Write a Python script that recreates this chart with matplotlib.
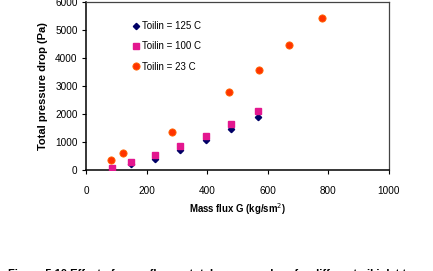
import matplotlib
matplotlib.use("Agg")
import matplotlib.pyplot as plt

plt.rcParams['font.family'] = ['Liberation Sans', 'DejaVu Sans']

g_125 = [87, 148, 227, 310, 396, 478, 569]
dp_125 = [40, 210, 393, 714, 1071, 1475, 1914]
g_100 = [87, 148, 227, 310, 396, 478, 569]
dp_100 = [90, 286, 557, 879, 1236, 1643, 2129]
g_23 = [81, 121, 284, 473, 571, 671, 778]
dp_23 = [357, 630, 1368, 2786, 3593, 4486, 5450]

labels = ['Toilin = 125 C', 'Toilin = 100 C', 'Toilin = 23 C']
xticks = [0, 200, 400, 600, 800, 1000]
yticks = [0, 1000, 2000, 3000, 4000, 5000, 6000]

fig = plt.figure(figsize=(4.33, 2.71), dpi=100)
ax = fig.add_axes([86/433, 1-170.3/271, 303/433, 168/271])

ax.plot(g_100, dp_100, 's', color='#E3178F', markersize=4.2, mec='#E3178F', label=labels[1], zorder=3)
ax.plot(g_125, dp_125, 'D', color='#000066', markersize=3.2, mec='#000066', label=labels[0], zorder=2)
ax.plot(g_23, dp_23, 'o', color='#FF3300', markersize=5.2, mec='#FF6600', mew=0.6, label=labels[2], zorder=3)

ax.set_xlim(0, 1000)
ax.set_ylim(0, 6000)
ax.set_xticks(xticks)
ax.set_yticks(yticks)
ax.tick_params(axis='both', labelsize=7.2, length=3, width=0.8, direction='out', pad=8)
ax.tick_params(axis='y', pad=3)
for s in ['left', 'bottom']:
    ax.spines[s].set_linewidth(1.1)
    ax.spines[s].set_color('black')
for s in ['top', 'right']:
    ax.spines[s].set_linewidth(0.9)
    ax.spines[s].set_color('#444444')

ax.set_xlabel('Mass flux G (kg/sm$^2$)', fontsize=6.9, fontweight='bold', labelpad=4)
ax.set_ylabel('Total pressure drop (Pa)', fontsize=8, fontweight='bold', labelpad=5)

h, l = ax.get_legend_handles_labels()
order = [1, 0, 2]
ax.legend([h[i] for i in order], [l[i] for i in order], loc='upper left',
          bbox_to_anchor=(0.12, 0.94), frameon=False, fontsize=7,
          handletextpad=0.1, handlelength=1.0, labelspacing=1.05)

fig.text(8/433, 1-268.8/271, 'Figure 5.10 Effect of mass flux on total pressure drop for different oil inlet temperatures',
         fontsize=8, fontweight='bold', va='top', ha='left')

fig.savefig('out.png', dpi=100)
